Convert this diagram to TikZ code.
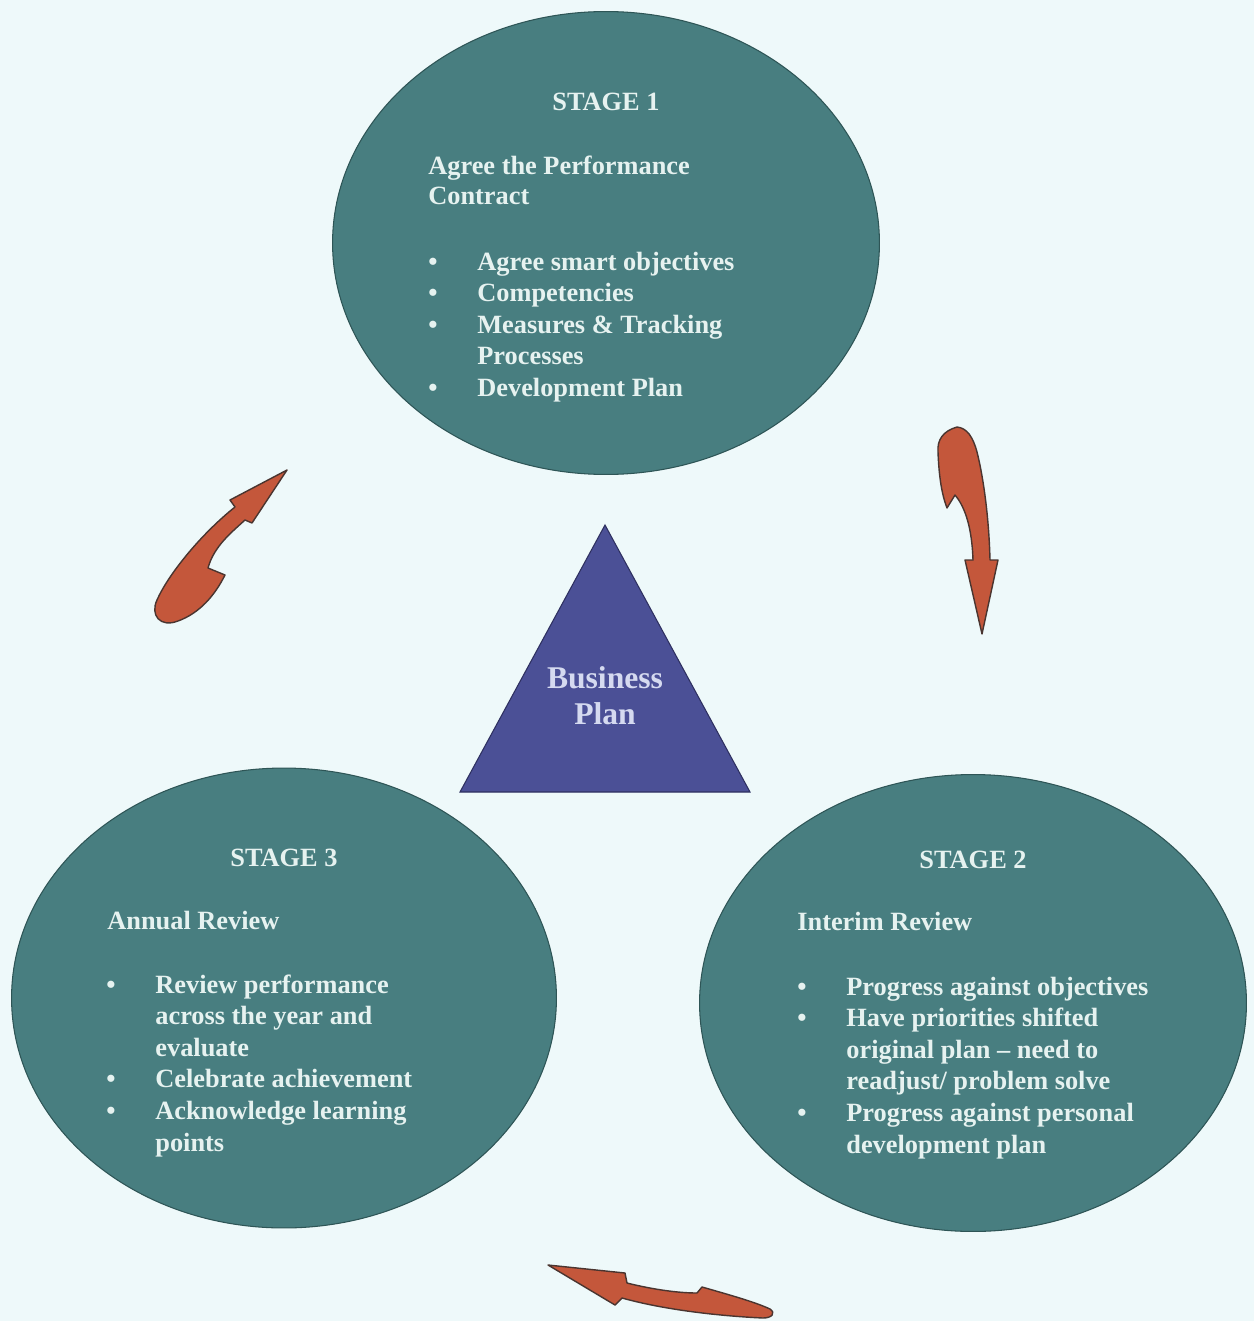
\documentclass[tikz,border=0pt]{standalone}
\usepackage{fontspec}
\setmainfont{Liberation Serif}
\usetikzlibrary{shapes.geometric}
\definecolor{bgc}{HTML}{EEF9FA}
\definecolor{tealc}{HTML}{487E80}
\definecolor{tealedge}{HTML}{2E5556}
\definecolor{tric}{HTML}{4B5096}
\definecolor{triedge}{HTML}{2E3060}
\definecolor{arrc}{HTML}{C4573B}
\definecolor{arredge}{HTML}{4A3530}
\definecolor{txtc}{HTML}{E6F2F0}
\definecolor{tritxt}{HTML}{D5DAF0}
\newcommand\bitem[1]{\textbullet & #1\\}
\newcommand\bcont[1]{& #1\\}
\newenvironment{blist}{\begin{tabular}[t]{@{}p{27.9pt}@{}l@{}}}{\end{tabular}}
\begin{document}
\begin{tikzpicture}[x=0.02cm,y=-0.02cm,
  stagebox/.style={ellipse, fill=tealc, draw=tealedge, line width=0.6pt, inner sep=0pt},
  tribox/.style={fill=tric, draw=triedge, line width=0.6pt},
  bigarrow/.style={fill=arrc, draw=arredge, line width=0.8pt, line join=round},
  stxt/.style={text=txtc, font=\bfseries\fontsize{15}{18}\selectfont, inner sep=0pt, align=left},
  htxt/.style={text=txtc, font=\bfseries\fontsize{15}{18}\selectfont, inner sep=0pt, anchor=base},
  ttxt/.style={text=tritxt, font=\bfseries\fontsize{18}{20.5}\selectfont, inner sep=0pt, anchor=base}
]
\fill[bgc] (0,0) rectangle (1254,1321);
\useasboundingbox (0,0) rectangle (1254,1321);

% stage ellipses
\node[stagebox, minimum width=10.94cm, minimum height=9.26cm] (s1) at (606,243) {};
\node[stagebox, minimum width=10.9cm, minimum height=9.2cm] (s3) at (284,998) {};
\node[stagebox, minimum width=10.94cm, minimum height=9.14cm] (s2) at (973,1003) {};

% triangle
\coordinate (tA) at (605,525);
\coordinate (tB) at (460,792);
\coordinate (tC) at (750,792);
\filldraw[tribox] (tA) -- (tB) -- (tC) -- cycle;
\node[ttxt] (bp1) at (605,688) {Business};
\node[ttxt] (bp2) at (605,724) {Plan};

% stage 1 text
\node[htxt] (s1h) at (606,111) {STAGE 1};
\node[stxt, anchor=base west] (s1t) at (428,175) {\begin{tabular}[t]{@{}l@{}}Agree the Performance\\[-1pt] Contract\end{tabular}};
\node[stxt, anchor=base west] (s1l) at (428,270) {\begin{blist}
\bitem{Agree smart objectives}
\bitem{Competencies}
\bitem{Measures \& Tracking}
\bcont{Processes}
\bitem{Development Plan}
\end{blist}};

% stage 3 text
\node[htxt] (s3h) at (284,866) {STAGE 3};
\node[stxt, anchor=base west] (s3t) at (107,929) {Annual Review};
\node[stxt, anchor=base west] (s3l) at (106,993) {\begin{blist}
\bitem{Review performance}
\bcont{across the year and}
\bcont{evaluate}
\bitem{Celebrate achievement}
\bitem{Acknowledge learning}
\bcont{points}
\end{blist}};

% stage 2 text
\node[htxt] (s2h) at (973,868) {STAGE 2};
\node[stxt, anchor=base west] (s2t) at (797,930) {Interim Review};
\node[stxt, anchor=base west] (s2l) at (797,995) {\begin{blist}
\bitem{Progress against objectives}
\bitem{Have priorities shifted}
\bcont{original plan -- need to}
\bcont{readjust/ problem solve}
\bitem{Progress against personal}
\bcont{development plan}
\end{blist}};

% arrow stage3 -> stage1 (upper left)
\filldraw[bigarrow] (287,470) -- (252,523) -- (245,520)
  .. controls (232,532) and (214,546) .. (208,568)
  -- (225,575)
  .. controls (215,595) and (200,613) .. (178,621)
  .. controls (160,628) and (150,615) .. (157,600)
  .. controls (168,575) and (200,535) .. (235,507)
  -- (230,500) -- cycle;

% arrow stage1 -> stage2 (right)
\filldraw[bigarrow] (957,427)
  .. controls (943,431) and (937,440) .. (938,452)
  .. controls (939,478) and (942,495) .. (947,508)
  -- (955,495)
  .. controls (966,508) and (972,530) .. (973,560)
  -- (965,560) -- (982,634) -- (998,560) -- (990,560)
  .. controls (989,520) and (984,480) .. (977,452)
  .. controls (973,437) and (967,428) .. (957,427) -- cycle;

% arrow stage2 -> stage3 (bottom)
\filldraw[bigarrow] (548,1265) -- (625,1273) -- (627,1283)
  .. controls (655,1290) and (680,1293) .. (697,1293)
  -- (702,1287)
  .. controls (730,1295) and (755,1302) .. (770,1309)
  .. controls (776,1313) and (772,1318) .. (763,1318)
  .. controls (720,1316) and (665,1310) .. (622,1298)
  -- (615,1305) -- cycle;
\end{tikzpicture}
\end{document}
